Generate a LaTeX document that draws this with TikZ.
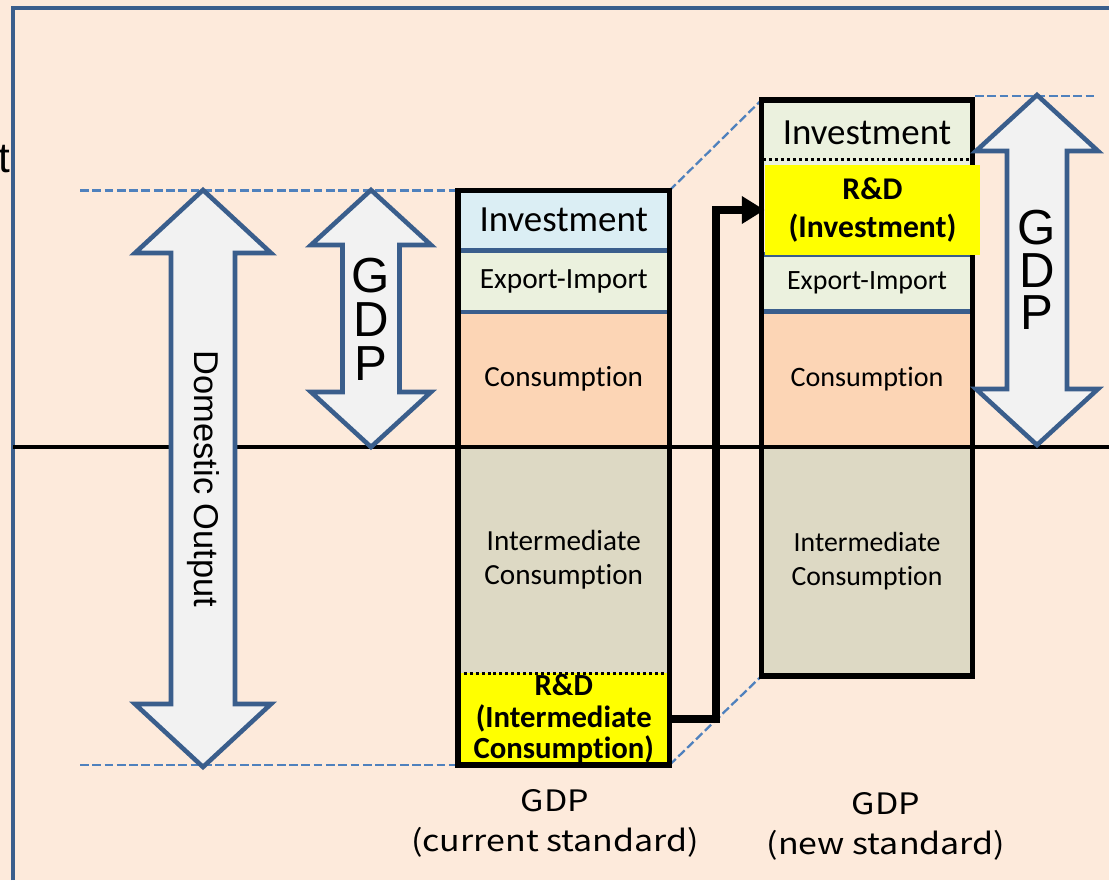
\documentclass[tikz,border=0pt]{standalone}
\usepackage{fontspec}
\setmainfont{Carlito}[Ligatures=NoCommon]
\newfontfamily\arialf{Liberation Sans}
\newfontfamily\jpf{Noto Sans CJK JP}[FakeStretch=1.15]
\usetikzlibrary{arrows.meta,calc}
\definecolor{bgpeach}{HTML}{FDEADB}
\definecolor{frameblue}{HTML}{3A5E8C}
\definecolor{guideblue}{HTML}{4F81BD}
\definecolor{arrowgray}{HTML}{F2F2F2}
\definecolor{invblue}{HTML}{DBEEF4}
\definecolor{exgreen}{HTML}{EBF1DE}
\definecolor{conspeach}{HTML}{FCD5B5}
\definecolor{intgray}{HTML}{DDD9C4}
\definecolor{rdyellow}{HTML}{FFFF00}
\tikzset{
	part/.style={inner sep=0pt, minimum width=211.5*0.02cm, align=center, font=\fontsize{16.6}{19.3}\selectfont},
	sepline/.style={draw=frameblue, line width=2.6pt},
	dotline/.style={draw=black, line width=1.7pt, dash pattern=on 1.7pt off 1.7pt},
	guide/.style={draw=guideblue, line width=1.3pt, dash pattern=on 5pt off 2pt},
	bigarrow/.style={draw=frameblue, fill=arrowgray, line width=2.6pt, line join=miter},
	gdpstack/.style={inner sep=0pt, align=center, font=\arialf\fontsize{28}{25}\selectfont},
	stdtext/.style={inner sep=0pt, align=center, font=\jpf\fontsize{16.8}{22.7}\selectfont}
}
\begin{document}
\begin{tikzpicture}[x=0.02cm, y=-0.02cm, line join=miter, >={Triangle[length=13pt,width=15pt]}]
	\useasboundingbox (0,0) rectangle (1109,880);
	\fill[bgpeach] (0,0) rectangle (1109,880);
	\path (458,190.5) coordinate (A1) (669.5,765) coordinate (A2) (761.5,100) coordinate (B1) (972.5,676) coordinate (B2);
	\draw[frameblue, line width=2.3pt] (13,880) -- (13,8) -- (1109,8);
	\node[anchor=base east, inner sep=0pt, font=\arialf\fontsize{24}{28}\selectfont] (cut) at (11,172) {t};
	\draw[guide] (80,190.5) -- (A1);
	\draw[guide] (80,765) -- (A1 |- A2);
	\draw[guide] (A1 -| A2) -- (B1);
	\draw[guide] (A2) -- (B1 |- B2);
	\draw[guide] (975,96) -- (1095,96);
	\node[part, fill=invblue, minimum height=59.5*0.02cm, font=\fontsize{21}{24}\selectfont] (inv1) at (563.75,220.25) {Investment};
	\node[part, fill=exgreen, minimum height=61*0.02cm, font=\fontsize{16.7}{19}\selectfont] (ex1) at (563.75,281) {Export-Import};
	\node[part, fill=conspeach, minimum height=136*0.02cm] (con1) at (563.75,379) {Consumption};
	\node[part, fill=intgray, minimum height=226*0.02cm] (int1) at (563.75,560) {Intermediate\\Consumption};
	\node[part, fill=rdyellow, minimum height=92*0.02cm, font=\bfseries\fontsize{17.5}{18}\selectfont] (rd1) at (563.75,719) {R\&D\\(Intermediate\\Consumption)};
	\node[part, minimum width=211*0.02cm, fill=exgreen, minimum height=65*0.02cm, font=\fontsize{21}{24}\selectfont] (inv2) at (867,132.5) {Investment};
	\node[part, minimum width=211*0.02cm, fill=exgreen, minimum height=56*0.02cm, font=\fontsize{15.9}{19}\selectfont] (ex2) at (867,283) {Export-Import};
	\node[part, minimum width=211*0.02cm, fill=conspeach, minimum height=136*0.02cm, font=\fontsize{16}{19}\selectfont] (con2) at (867,379) {Consumption};
	\node[part, minimum width=211*0.02cm, fill=intgray, minimum height=229*0.02cm, font=\fontsize{15.8}{19.3}\selectfont] (int2) at (867,561.5) {Intermediate\\Consumption};
	\foreach \n in {inv1, ex1, ex2}{\draw[sepline] (\n.south west) -- (\n.south east);}
	\draw[sepline] (ex2.north west) -- (ex2.north east);
	\draw[dotline] (int1.south west) -- (int1.south east);
	\draw[dotline] (763,159) -- (971,159);
	\draw[line width=2.6pt] (13,447) -- (1109,447);
	\draw[line width=3.4pt] (A1) rectangle (A2);
	\draw[line width=3.4pt] (B1) rectangle (B2);
	\node[part, fill=rdyellow, minimum width=215*0.02cm, minimum height=90*0.02cm, font=\bfseries\fontsize{18}{21.5}\selectfont] (rd2) at (872.5,210) {R\&D\\(Investment)};
	\foreach \cx/\ty/\by/\hw/\sw/\hl in {203/190/767/68/32/63, 371/190/447/60/28.5/55, 1037/95/445/61/30/56}{
		\draw[bigarrow] (\cx,\ty) -- ({\cx+\hw},{\ty+\hl}) -- ({\cx+\sw},{\ty+\hl}) -- ({\cx+\sw},{\by-\hl}) -- ({\cx+\hw},{\by-\hl}) -- (\cx,\by)
			-- ({\cx-\hw},{\by-\hl}) -- ({\cx-\sw},{\by-\hl}) -- ({\cx-\sw},{\ty+\hl}) -- ({\cx-\hw},{\ty+\hl}) -- cycle;
	}
	\node[rotate=-90, inner sep=0pt, font=\arialf\fontsize{19.6}{23}\selectfont] (dom) at (203,479) {Domestic Output};
	\node[gdpstack] (gdpA) at (371,319) {G\\D\\P};
	\node[gdpstack, font=\arialf\fontsize{28}{24.2}\selectfont] (gdpB) at (1037,270) {G\\D\\P};
	\draw[line width=4.5pt, ->] (rd1.east) -- ++(46.5,0) |- (rd2.west);
	\node[stdtext] (stdA) at (555,823) {GDP\\(current standard)};
	\node[stdtext] (stdB) at (886,826) {GDP\\(new standard)};
\end{tikzpicture}
\end{document}
